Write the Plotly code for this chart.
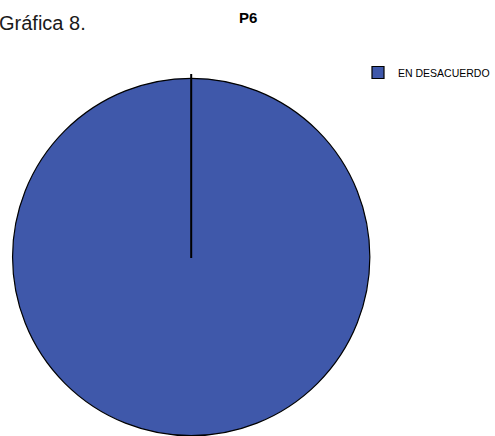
import plotly.graph_objects as go

labels = ["EN DESACUERDO"]
values = [100]
colors = ["#3F58AA"]

W, H = 495, 446
DX = 4  # horizontal correction
# pie placement in pixels (centre and radius)
pcx, pcy, pr = 194 + DX, 257, 185
fig = go.Figure()
fig.add_trace(go.Pie(
    labels=labels, values=values, sort=False, direction="clockwise", rotation=0,
    marker=dict(colors=colors, line=dict(color="black", width=1.2)),
    textinfo="none", hoverinfo="label+percent",
    domain=dict(x=[(pcx - pr) / W, (pcx + pr) / W],
                y=[1 - (pcy + pr) / H, 1 - (pcy - pr) / H]),
    showlegend=True,
))
fig.add_shape(type="line", xref="paper", yref="paper",
              x0=pcx / W, x1=pcx / W, y0=1 - (pcy - pr + 2) / H, y1=1 - (pcy + 1) / H,
              line=dict(color="black", width=2))
fig.add_annotation(text="Gráfica 8.", x=-3 / W, y=1 - 23 / H, xref="paper", yref="paper",
                   xanchor="left", yanchor="middle", showarrow=False,
                   font=dict(family="Liberation Sans, Arial", size=20, color="#1a1a1a"))
fig.add_annotation(text="<b>P6</b>", x=(253 + DX) / W, y=1 - 17.5 / H, xref="paper", yref="paper",
                   xanchor="center", yanchor="middle", showarrow=False,
                   font=dict(family="Liberation Sans, Arial", size=15, color="black"))
fig.update_layout(
    width=W, height=H, margin=dict(l=0, r=0, t=0, b=0),
    paper_bgcolor="white", plot_bgcolor="white",
    legend=dict(x=(367 + DX) / W, y=1 - 58 / H, xanchor="left", yanchor="top",
                font=dict(family="Liberation Sans, Arial", size=10.5, color="black"),
                itemwidth=30, bgcolor="rgba(0,0,0,0)", tracegroupgap=0),
)
fig.write_html("out.html", config={"displayModeBar": False},
               post_script="document.body.style.margin='0';document.body.style.overflow='hidden';")
